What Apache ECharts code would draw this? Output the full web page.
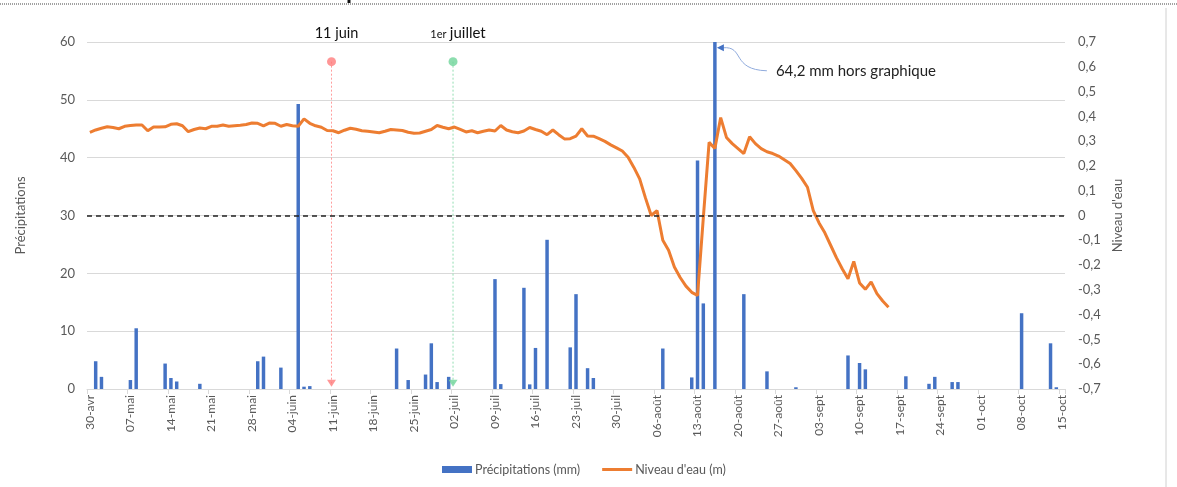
<!DOCTYPE html>
<html>
<head>
<meta charset="utf-8">
<script src="https://cdn.jsdelivr.net/npm/echarts@6/dist/echarts.min.js"></script>
<style>
html,body{margin:0;padding:0;background:#fff;}
#chart{width:1177px;height:487px;}
</style>
</head>
<body>
<div id="chart"></div>
<script>
// ---- categories (daily, 30-avr .. 15-oct) ----
const monthSpans = [['avr',30,30],['mai',1,31],['juin',1,30],['juil',1,31],['août',1,31],['sept',1,30],['oct',1,15]];
const categories = [];
monthSpans.forEach(([m,a,b]) => { for (let d=a; d<=b; d++) categories.push(String(d).padStart(2,'0') + '-' + m); });

// ---- precipitation (mm), only rainy days ----
const rainDates = ['01-mai','02-mai','07-mai','08-mai','13-mai','14-mai','15-mai','19-mai','29-mai','30-mai',
  '02-juin','05-juin','06-juin','07-juin','22-juin','24-juin','27-juin','28-juin','29-juin',
  '01-juil','09-juil','10-juil','14-juil','15-juil','16-juil','18-juil','22-juil','23-juil','25-juil','26-juil',
  '07-août','12-août','13-août','14-août','16-août','21-août','25-août','30-août',
  '08-sept','10-sept','11-sept','18-sept','22-sept','23-sept','26-sept','27-sept',
  '08-oct','13-oct','14-oct'];
const rainValues = [4.8,2.1,1.55,10.5,4.4,1.9,1.3,0.9,4.8,5.6,
  3.7,49.3,0.4,0.5,7.0,1.55,2.5,7.9,1.2,
  2.1,19.0,0.85,17.5,0.8,7.1,25.8,7.2,16.4,3.6,1.9,
  7.0,2.0,39.5,14.8,64.2,16.4,3.05,0.3,
  5.8,4.5,3.4,2.2,0.9,2.1,1.2,1.2,
  13.1,7.9,0.3];

// ---- water level (m), daily from 30-avr ----
const levelValues = [0.335,0.345,0.352,0.358,0.355,0.350,0.360,0.363,0.365,0.365,
 0.342,0.357,0.357,0.358,0.368,0.370,0.362,0.338,0.347,0.353,
 0.350,0.360,0.360,0.365,0.360,0.362,0.364,0.367,0.373,0.372,
 0.362,0.373,0.372,0.360,0.367,0.362,0.360,0.390,0.372,0.362,
 0.356,0.343,0.342,0.334,0.344,0.352,0.348,0.342,0.340,0.337,
 0.334,0.340,0.347,0.345,0.343,0.336,0.332,0.333,0.340,0.347,
 0.363,0.356,0.350,0.357,0.347,0.337,0.342,0.334,0.340,0.345,
 0.341,0.363,0.345,0.338,0.334,0.341,0.355,0.347,0.340,0.326,
 0.345,0.326,0.309,0.310,0.320,0.350,0.321,0.320,0.310,0.299,
 0.285,0.273,0.260,0.235,0.194,0.148,0.071,0.000,0.020,-0.100,
 -0.140,-0.208,-0.250,-0.285,-0.310,-0.322,-0.010,0.295,0.270,0.395,
 0.315,0.290,0.270,0.250,0.318,0.290,0.270,0.257,0.250,0.240,
 0.225,0.210,0.181,0.150,0.114,0.020,-0.030,-0.070,-0.120,-0.170,
 -0.215,-0.255,-0.185,-0.272,-0.298,-0.268,-0.315,-0.345,-0.370];

// ---- annotations ----
const eventDates = ['11-juin','02-juil'];
const eventColors = ['#FF7C7C','#6FD49A'];
const eventDotValue = 56.6;
const eventArrowValue = 1.0;
const offChartDate = '16-août';
const offChartText = '64,2 mm hors graphique';

const rainSeries = categories.map(c => { const i = rainDates.indexOf(c); return i >= 0 ? rainValues[i] : null; });

const FONT = 'Lato';
const GRAY = '#595959';

const chart = echarts.init(document.getElementById('chart'));

const eventSeries = [];
eventDates.forEach((d, k) => {
  const pos = categories.indexOf(d) + 0.25;
  eventSeries.push({
    type: 'line', xAxisIndex: 1, yAxisIndex: 0, silent: true, z: 1,
    data: [[pos, eventDotValue], [pos, eventArrowValue]],
    symbol: 'none',
    lineStyle: { color: eventColors[k], width: 1, type: [2, 2], opacity: 0.75 }
  });
  eventSeries.push({
    type: 'scatter', xAxisIndex: 1, yAxisIndex: 0, silent: true, z: 4,
    data: [[pos, eventDotValue]], symbol: 'circle', symbolSize: 9,
    itemStyle: { color: eventColors[k] }
  });
  eventSeries.push({
    type: 'scatter', xAxisIndex: 1, yAxisIndex: 0, silent: true, z: 4,
    data: [[pos, eventArrowValue]], symbol: 'triangle', symbolSize: [9, 7], symbolRotate: 180,
    itemStyle: { color: eventColors[k] }
  });
});

chart.setOption({
  animation: false,
  textStyle: { fontFamily: FONT },
  grid: { left: 87, right: 112, top: 42, bottom: 98, containLabel: false },
  legend: {
    data: [{ name: 'Précipitations (mm)', icon: 'rect' },
           { name: "Niveau d'eau (m)", icon: 'path://M0,0L30,0L30,3L0,3Z', itemStyle: { color: '#ED7D31' } }],
    left: 437, top: 458, itemWidth: 30, itemHeight: 7, itemGap: 22,
    textStyle: { color: GRAY, fontSize: 12.5, fontFamily: FONT, padding: [0, 0, 0, -2] }
  },
  xAxis: [{
    type: 'category', data: categories, boundaryGap: true,
    axisLine: { lineStyle: { color: '#d9d9d9' } },
    axisTick: { show: true, interval: 6, length: 5, lineStyle: { color: '#d9d9d9' } },
    axisLabel: { interval: 6, rotate: 90, color: GRAY, fontSize: 12, margin: 6, fontFamily: FONT }
  }, {
    type: 'value', min: 0, max: categories.length, show: false
  }],
  yAxis: [{
    type: 'value', min: 0, max: 60, interval: 10,
    name: 'Précipitations', nameLocation: 'middle', nameRotate: 90, nameGap: 60,
    nameTextStyle: { color: GRAY, fontSize: 13, fontFamily: FONT },
    axisLine: { show: false }, axisTick: { show: false },
    axisLabel: { color: GRAY, fontSize: 13, margin: 12, fontFamily: FONT },
    splitLine: { lineStyle: { color: '#d9d9d9', width: 1 } }
  }, {
    type: 'value', min: -0.7, max: 0.7, interval: 0.1, position: 'right',
    name: "Niveau d'eau", nameLocation: 'middle', nameRotate: 90, nameGap: 41,
    nameTextStyle: { color: GRAY, fontSize: 13, fontFamily: FONT },
    axisLine: { show: false }, axisTick: { show: false },
    axisLabel: {
      color: GRAY, fontSize: 13, margin: 13, fontFamily: FONT,
      formatter: v => { const r = Math.round(v * 10) / 10; return r === 0 ? '0' : r.toFixed(1).replace('.', ','); }
    },
    splitLine: { show: false }
  }],
  series: [{
    name: 'Précipitations (mm)', type: 'bar', data: rainSeries, barWidth: '60%',
    clip: true, itemStyle: { color: '#4472C4' }, z: 2
  }, {
    name: "Niveau d'eau (m)", type: 'line', yAxisIndex: 1, data: levelValues,
    symbol: 'none', smooth: false, z: 3,
    lineStyle: { color: '#ED7D31', width: 3 }, itemStyle: { color: '#ED7D31' },
    markLine: {
      silent: true, symbol: 'none', label: { show: false },
      lineStyle: { color: '#222', type: [5, 4], width: 1.5 },
      data: [{ yAxis: 0 }]
    }
  }].concat(eventSeries)
});

// graphics anchored through the axes
const g = [];
const evTextY = 33;
eventDates.forEach((d, k) => {
  const p = chart.convertToPixel({ xAxisIndex: 1, yAxisIndex: 0 }, [categories.indexOf(d) + 0.25, eventDotValue]);
  if (k === 0) {
    g.push({ type: 'text', x: p[0] + 5, y: evTextY, style: { text: '11 juin', fill: '#111', font: '14.5px ' + FONT, textAlign: 'center', textVerticalAlign: 'middle' } });
  } else {
    g.push({ type: 'text', x: p[0] + 5, y: evTextY, style: {
      text: '{s|1er} {b|juillet}', textAlign: 'center', textVerticalAlign: 'middle',
      rich: { s: { fontSize: 11, fill: '#111', fontFamily: FONT, padding: [3, 0, 0, 0] }, b: { fontSize: 15, fill: '#111', fontFamily: FONT } }
    } });
  }
});
const a = chart.convertToPixel({ seriesIndex: 0 }, [offChartDate, 59]);
const tipX = a[0] + 2, tipY = a[1];
g.push({ type: 'bezierCurve', shape: { x1: tipX + 6, y1: tipY, cpx1: tipX + 28, cpy1: tipY - 2, cpx2: tipX + 14, cpy2: tipY + 22, x2: tipX + 50, y2: tipY + 23 },
  style: { stroke: '#8FAADC', lineWidth: 1, fill: null } });
g.push({ type: 'polygon', shape: { points: [[tipX, tipY], [tipX + 7, tipY - 3.5], [tipX + 7, tipY + 3.5]] }, style: { fill: '#4472C4' } });
g.push({ type: 'text', x: tipX + 59, y: tipY + 23, style: { text: offChartText, fill: '#222', font: '15px ' + FONT, textVerticalAlign: 'middle' } });
// frame decorations
g.push({ type: 'line', shape: { x1: 0, y1: 4, x2: 1177, y2: 4 }, style: { stroke: '#444', lineWidth: 1, lineDash: [1, 1] } });
g.push({ type: 'line', shape: { x1: 1166, y1: 8, x2: 1166, y2: 487 }, style: { stroke: '#d0d0d0', lineWidth: 1 } });
g.push({ type: 'rect', shape: { x: 347.5, y: 0, width: 3, height: 3 }, style: { fill: '#111' } });
chart.setOption({ graphic: g });
</script>
</body>
</html>
